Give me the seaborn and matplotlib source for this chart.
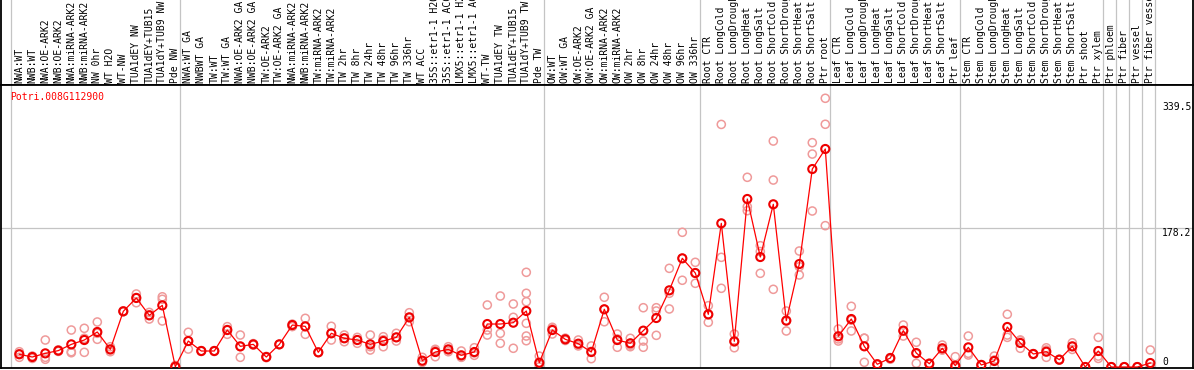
import matplotlib
matplotlib.use('Agg')
import matplotlib.pyplot as plt
import pandas as pd
import seaborn as sns

# %% data

gene = 'Potri.008G112900'

samples = [
    'NWA:WT', 'NWB:WT', 'NWA:OE-ARK2', 'NWB:OE-ARK2', 'NWA:miRNA-ARK2',
    'NWB:miRNA-ARK2', 'NW 0hr', 'WT H2O', 'WT-NW', 'TUA1dEY NW',
    'TUA1dEY+TUB15', 'TUA1dY+TUB9 NW', 'Pde NW',
    'NWA:WT GA', 'NWBWT GA', 'TW:WT', 'TW:WT GA', 'NWA:OE-ARK2 GA',
    'NWB:OE-ARK2 GA', 'TW:OE-ARK2', 'TW:OE-ARK2 GA', 'NWA:miRNA-ARK2',
    'NWB:miRNA-ARK2', 'TW:miRNA-ARK2', 'TW:miRNA-ARK2', 'TW 2hr', 'TW 8hr',
    'TW 24hr', 'TW 48hr', 'TW 96hr', 'TW 336hr', 'WT ACC',
    '35S::etr1-1 H2O', '35S::etr1-1 ACC', 'LMX5::etr1-1 H2O',
    'LMX5::etr1-1 ACC', 'WT-TW', 'TUA1dEY TW', 'TUA1dEY+TUB15',
    'TUA1dY+TUB9 TW', 'Pde TW',
    'OW:WT', 'OW:WT GA', 'OW:OE-ARK2', 'OW:OE-ARK2 GA', 'OW:miRNA-ARK2',
    'OW:miRNA-ARK2', 'OW 2hr', 'OW 8hr', 'OW 24hr', 'OW 48hr', 'OW 96hr',
    'OW 336hr',
    'Root CTR', 'Root LongCold', 'Root LongDrought', 'Root LongHeat',
    'Root LongSalt', 'Root ShortCold', 'Root ShortDrought', 'Root ShortHeat',
    'Root ShortSalt', 'Ptr root',
    'Leaf CTR', 'Leaf LongCold', 'Leaf LongDrought', 'Leaf LongHeat',
    'Leaf LongSalt', 'Leaf ShortCold', 'Leaf ShortDrought', 'Leaf ShortHeat',
    'Leaf ShortSalt', 'Ptr leaf',
    'Stem CTR', 'Stem LongCold', 'Stem LongDrought', 'Stem LongHeat',
    'Stem LongSalt', 'Stem ShortCold', 'Stem ShortDrought', 'Stem ShortHeat',
    'Stem ShortSalt', 'Ptr shoot', 'Ptr xylem',
    'Ptr phloem', 'Ptr fiber', 'Ptr vessel', 'Ptr fiber vessel',
]

mean_vals = [
    16.3, 12.8, 17.5, 21, 29, 34.6, 44.9, 22.6, 71.4, 88.5, 66.2, 79, 0.4,
    33.3, 20.5, 20.5, 47.4, 26.5, 29, 12.8, 29, 53.8, 52.1, 18.8, 43.2, 36.8,
    34.6, 29, 33.3, 38, 63.7, 8.1, 19.2, 22.6, 15, 19.2, 55.1, 55.1, 56.8,
    71.8, 5.5,
    47.4, 35.5, 29.9, 19.2, 74, 34.6, 30.4, 46.6, 62.8, 98.3, 139.3, 120.5,
    67.5, 184.2, 32.9, 215.4, 141, 208.6, 59.4, 132, 253.8, 279.5,
    39.4, 61.5, 26.5, 3.5, 11.5, 46.6, 17.9, 4.2, 24, 1.7,
    25.2, 2.6, 7.7, 51.3, 30.8, 16.7, 19.6, 9.4, 26.5, 0, 20.5,
    0, 0, 0, 5.1,
]

rep_vals = [
    [19.6, 12.4, 17], [14, 11, 13.5], [34.6, 9.9, 12.4], [22, 20, 21],
    [47.4, 19.6, 18.3], [49.6, 36.8, 18.8], [57.7, 35.5, 43.2], [26, 19.6, 22],
    [71, 72, 71], [93.6, 82.4, 89], [70, 61.5, 67], [90, 86.8, 59], [2, 0, 0],
    [44.5, 23, 33], [21, 20, 20.5], [20.5, 21, 20], [51.7, 41.9, 48],
    [41, 12.4, 26], [29, 30, 28], [13, 12, 13.5], [29, 29, 29], [55, 52, 52],
    [62.4, 41.9, 52], [19, 18.5, 19], [52.2, 34.6, 43], [41, 32.4, 37],
    [38, 30.4, 35], [41, 21.8, 26], [38.8, 26, 35], [43.2, 33.3, 38],
    [69.6, 58, 63], [12.4, 6.4, 6], [22.7, 13.2, 21], [26, 19.6, 22],
    [20.5, 12.4, 13], [24.7, 15, 18], [79.5, 47.4, 41], [91, 43.2, 30.4],
    [80.8, 63.7, 24], [121.4, 94.5, 83.7, 56, 39.7, 33.7], [14, 0, 3],
    [50.9, 42.3, 49], [37, 34, 35.5], [34.6, 28.2, 27], [27, 10.7, 20],
    [89.4, 58, 74], [42.3, 25.3, 36], [36.8, 26, 28], [76, 33.3, 25.3],
    [76, 71.8, 40.6], [126.5, 94.5, 74.4], [172.7, 111.2, 139.4],
    [134.2, 107.3, 120.5],
    [78.6, 57.3, 67], [311, 140.6, 100.9], [42.3, 24.7, 32],
    [243.2, 205.5, 200.4], [155.5, 120.1, 148], [289.7, 239.7, 99.6],
    [71.8, 46.2, 60], [148.7, 128.6, 118], [287.6, 273, 200],
    [344.5, 311.2, 181.2],
    [48.7, 33.3, 36], [77.8, 46.2, 60], [36.8, 6, 37], [4, 3, 3.5],
    [12, 10, 11], [53.8, 39.7, 46], [31.7, 4.7, 17], [5, 4, 3.5],
    [28.2, 21.8, 22], [13.2, 0, 0],
    [39.7, 17.6, 15.4], [3, 2, 3], [14, 0, 9], [67.6, 38, 41],
    [33.7, 24, 34.7], [17, 16, 17], [21.8, 12.4, 24.6], [9, 10, 9],
    [31, 26, 22.5], [0, 0, 0], [38, 14, 11],
    [0, 0, 0], [0, 0, 0], [0, 0, 0], [21.8, 0, 0, 0],
]

# sample index where a new group starts (gray separators)
group_starts = [0, 13, 41, 53, 63, 73, 84, 85, 86, 87, 88]

# value labels on the right side
y_marks = [339.5, 178.2, 0]
grid_val = 178.2

# %% tables for seaborn
df_mean = pd.DataFrame({'pos': range(len(samples)), 'sample': samples, 'value': mean_vals})
rows = []
for i, reps in enumerate(rep_vals):
    for v in reps:
        rows.append({'pos': i, 'value': v})
df_rep = pd.DataFrame(rows)

# %% figure
W, H = 1194, 370
fig = plt.figure(figsize=(W / 100, H / 100), dpi=100)
fig.patch.set_facecolor('white')

# header strip (px y 0..85) and plot area (px y 85..368)
ax_top = fig.add_axes([1 / W, (H - 85) / H, (W - 2) / W, 85 / H])
ax = fig.add_axes([1 / W, 2 / H, (W - 2) / W, 283 / H])

# x: sample i sits at px 19.3 + 13*i ; y: 0.78 px per unit, 0 at px 367
xlim = ((1 - 19.3) / 13, (W - 1 - 19.3) / 13)
for a in (ax, ax_top):
    a.set_xlim(xlim)
    a.set_xticks([])
    a.set_yticks([])
    for s in a.spines.values():
        s.set_color('black')
        s.set_linewidth(1.3)
ax.set_ylim((367 - 368) / 0.78, (367 - 85) / 0.78)
ax_top.set_ylim(0, 1)
ax_top.spines['top'].set_visible(False)

# gray separators through header and plot
for k in group_starts:
    for a in (ax, ax_top):
        a.axvline(k - 0.615, color='#c4c4c4', lw=0.9, zorder=0)
ax.axhline(grid_val, color='#c4c4c4', lw=0.9, zorder=0)

# replicates, mean line, mean circles
sns.scatterplot(data=df_rep, x='pos', y='value', ax=ax, marker='o', s=34,
                color='#ef9a9a', facecolor='none', edgecolor='#ef9a9a',
                linewidth=1.1, legend=False, zorder=2)
sns.lineplot(data=df_mean, x='pos', y='value', ax=ax, color='#ff0000',
             lw=0.9, legend=False, zorder=3)
sns.scatterplot(data=df_mean, x='pos', y='value', ax=ax, marker='o', s=34,
                color='#ff0000', facecolor='none', edgecolor='#ee0000',
                linewidth=1.5, legend=False, zorder=4)
ax.set_xlabel('')
ax.set_ylabel('')

mono = 'DejaVu Sans Mono'

# sample names, rotated
for i, name in enumerate(samples):
    ax_top.text(i, 2 / 85, name, rotation=90, ha='center', va='bottom',
                fontsize=7, family=mono, color='black')

# gene name
ax.text(9 / (W - 2), 1 - 11.7 / 283, gene, transform=ax.transAxes,
        ha='left', va='center', fontsize=7, family=mono, color='red')

# value marks on the right
tr = ax.get_yaxis_transform()
for v in y_marks:
    ax.text((1162 - 1) / (W - 2), v, f'{v:g}' if v else '0', transform=tr,
            ha='left', va='top' if v else 'bottom', fontsize=7, family=mono,
            color='black')

plt.savefig('out.png', dpi=100)
